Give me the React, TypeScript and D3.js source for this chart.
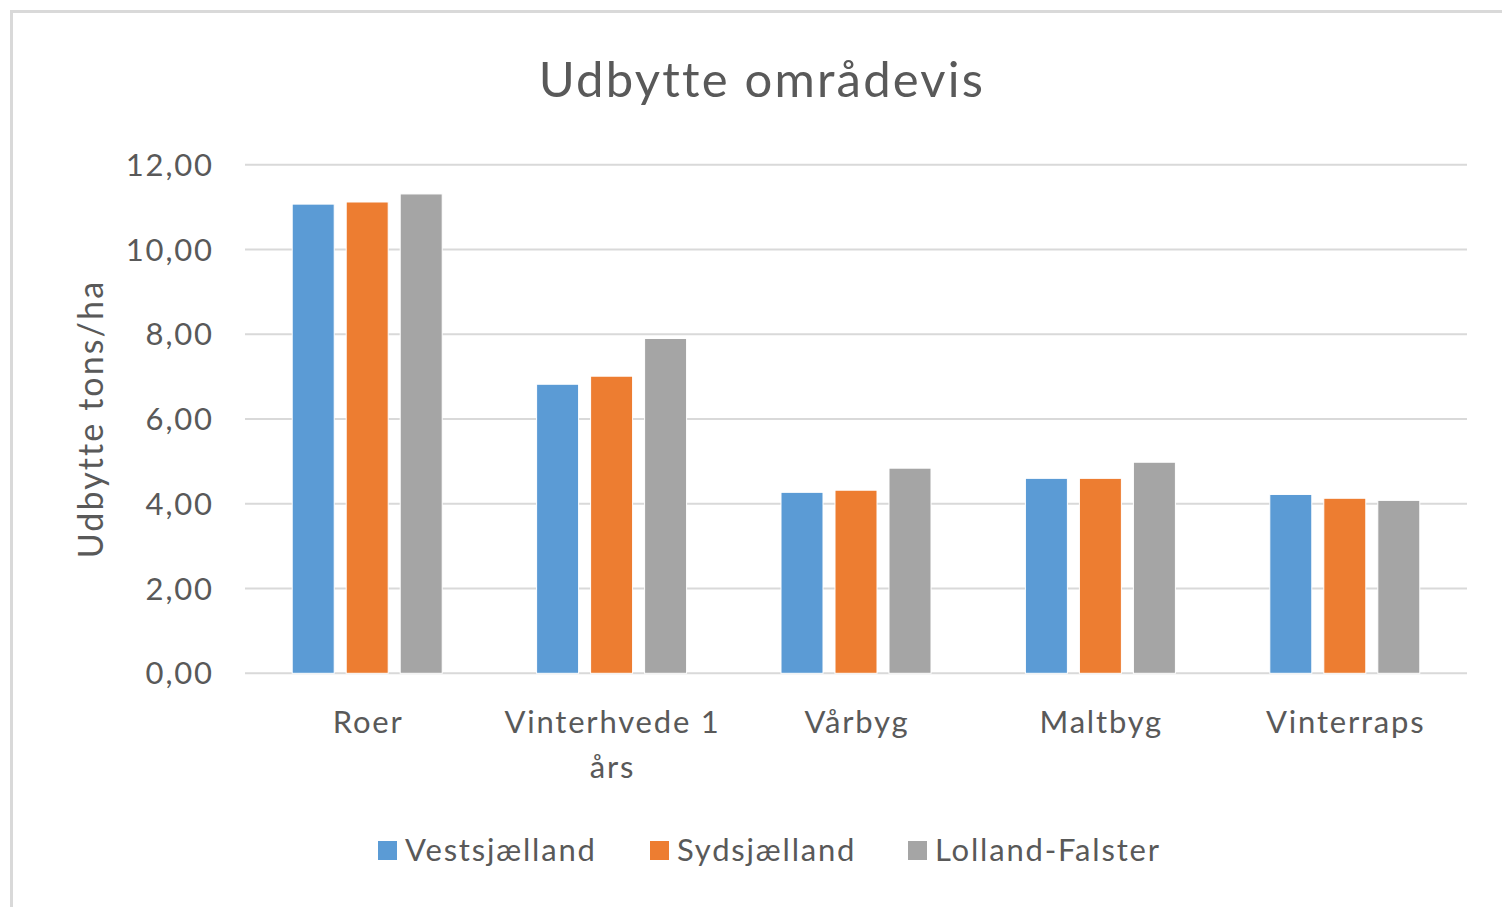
import React from "react";
import * as d3 from "d3";

const title = "Udbytte områdevis";
const yAxisTitle = "Udbytte tons/ha";
const categories = ["Roer", "Vinterhvede 1 års", "Vårbyg", "Maltbyg", "Vinterraps"];
const categoryLines = [["Roer"], ["Vinterhvede 1", "års"], ["Vårbyg"], ["Maltbyg"], ["Vinterraps"]];
const seriesNames = ["Vestsjælland", "Sydsjælland", "Lolland-Falster"];
const vestsjaelland = [11.07, 6.82, 4.27, 4.6, 4.22];
const sydsjaelland = [11.12, 7.01, 4.32, 4.6, 4.13];
const lollandFalster = [11.31, 7.9, 4.84, 4.98, 4.08];
const yTicks = [0, 2, 4, 6, 8, 10, 12];
const colors = ["#5B9BD5", "#ED7D31", "#A5A5A5"];

const W = 1502;
const H = 907;
const FONT = "Lato, 'Open Sans', sans-serif";
const TEXT = "#595959";
const LS = 1.8;

export default function App() {
  const seriesValues = [vestsjaelland, sydsjaelland, lollandFalster];
  const x = d3.scaleBand<string>().domain(categories).range([245, 1467]).paddingInner(0).paddingOuter(0);
  const y = d3.scaleLinear().domain([0, 12]).range([673.3, 164.7]);
  const groupW = 150;
  const xs = d3.scaleBand<string>().domain(seriesNames).range([0, groupW]).paddingInner(12 / 54).paddingOuter(0);
  const fmt = (v: number) => v.toFixed(2).replace(".", ",");
  const legendSwatchX = [378, 650, 908];

  return (
    <svg width={W} height={H} style={{ position: "absolute", left: 0, top: 0, background: "#fff" }} fontFamily={FONT}>
      <rect x={0} y={0} width={W} height={H} fill="#fff" />
      <rect x={11.5} y={11.5} width={1600} height={1000} fill="none" stroke="#D9D9D9" strokeWidth={3} />
      <text x={762} y={97} textAnchor="middle" fontSize={49} letterSpacing={2.2} fill={TEXT}>{title}</text>
      {yTicks.map((t) => (
        <g key={t}>
          <line x1={245} x2={1467} y1={y(t)} y2={y(t)} stroke="#D9D9D9" strokeWidth={2} />
          <text x={212 + LS} y={y(t)} dy="0.36em" textAnchor="end" fontSize={31} letterSpacing={LS} fill={TEXT}>{fmt(t)}</text>
        </g>
      ))}
      <text transform={`translate(103,${(y(0) + y(12)) / 2}) rotate(-90)`} textAnchor="middle" fontSize={34} letterSpacing={2.1} fill={TEXT}>{yAxisTitle}</text>
      {categories.map((c, ci) => {
        const cx = (x(c) as number) + x.bandwidth() / 2;
        return (
          <g key={c}>
            {seriesNames.map((s, si) => {
              const v = seriesValues[si][ci];
              return (
                <rect key={s} x={cx - groupW / 2 + (xs(s) as number)} y={y(v)} width={xs.bandwidth()} height={y(0) - y(v)}
                  fill={colors[si]} stroke="#fff" strokeWidth={1} />
              );
            })}
            {categoryLines[ci].map((line, li) => (
              <text key={li} x={cx + LS / 2} y={733 + li * 45} textAnchor="middle" fontSize={31} letterSpacing={LS} fill={TEXT}>{line}</text>
            ))}
          </g>
        );
      })}
      {seriesNames.map((s, si) => (
        <g key={s}>
          <rect x={legendSwatchX[si]} y={841} width={19} height={19} fill={colors[si]} />
          <text x={legendSwatchX[si] + 27} y={861} fontSize={31} letterSpacing={LS} fill={TEXT}>{s}</text>
        </g>
      ))}
    </svg>
  );
}
